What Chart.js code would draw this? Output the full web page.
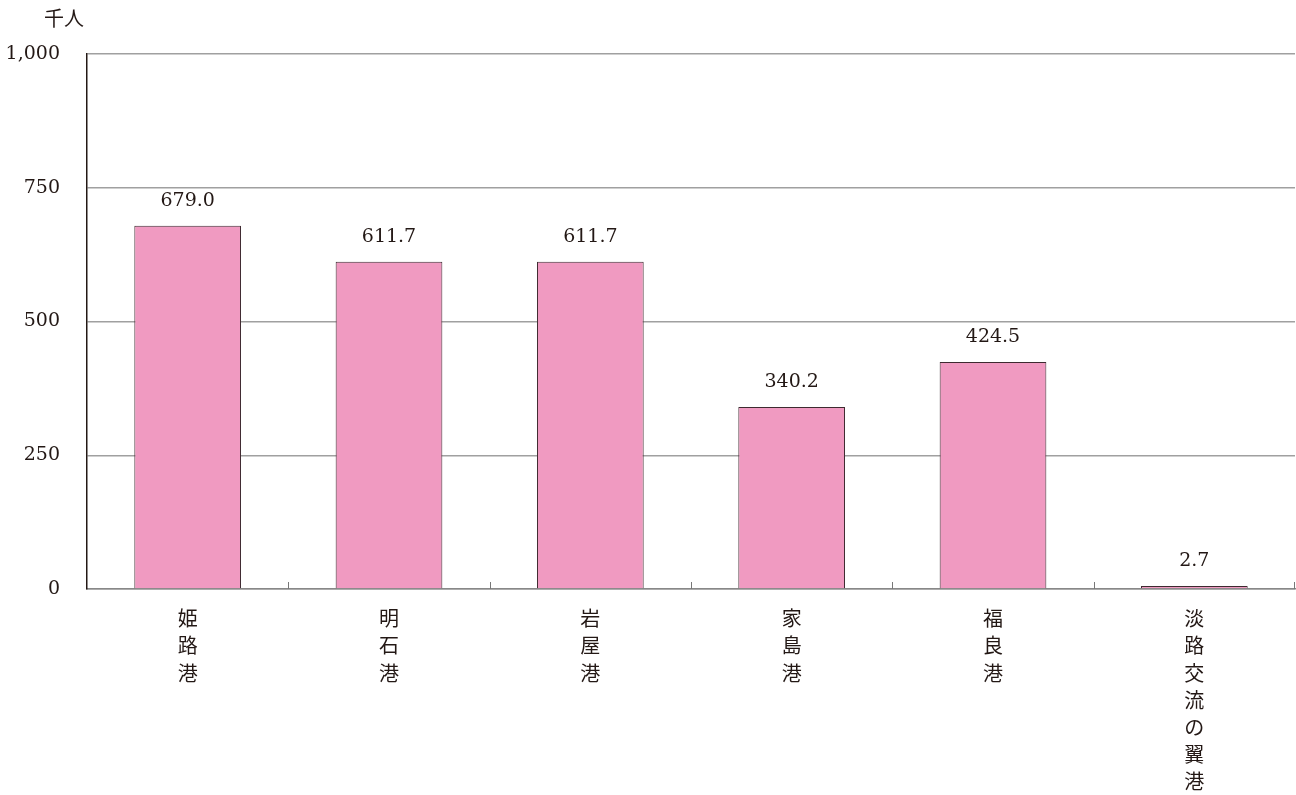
<!DOCTYPE html>
<html>
<head>
<meta charset="utf-8">
<script src="https://cdn.jsdelivr.net/npm/chart.js@4/dist/chart.umd.min.js"></script>
<style>
  html,body{margin:0;padding:0;background:#fff;}
  #wrap{width:1296px;height:795px;position:relative;}
</style>
</head>
<body>
<div id="wrap"><canvas id="myChart" width="1296" height="795"></canvas></div>
<script>
// 港別の乗降客数（千人）
var portNames=["姫路港","明石港","岩屋港","家島港","福良港","淡路交流の翼港"];
var passengers=[679.0,611.7,611.7,340.2,424.5,2.7];
var yTicks=[0,250,500,750,1000];
var unitLabel="千人";

var serif="'DejaVu Serif','Liberation Serif','Noto Sans CJK JP',serif";

// 縦書きラベル用に1文字ずつに分ける
var verticalLabels=portNames.map(function(n){ return n.split(""); });

var extras={
    id:"extras",
    afterDatasetsDraw:function(chart){
        var ctx=chart.ctx;
        var xs=chart.scales.x, ys=chart.scales.y;
        var meta=chart.getDatasetMeta(0);
        ctx.save();
        // 数値ラベル
        ctx.font="19px "+serif;
        ctx.fillStyle="#231815";
        ctx.textAlign="center";
        ctx.textBaseline="middle";
        meta.data.forEach(function(bar,i){
            var top=Math.min(bar.y,ys.bottom-2);
            ctx.fillText(passengers[i].toFixed(1),bar.x,top-25);
        });
        // 区切り目盛り（内向き）
        ctx.strokeStyle="#777";
        ctx.lineWidth=1;
        for(var i=1;i<portNames.length;i++){
            var px=Math.round((xs.getPixelForValue(i-1)+xs.getPixelForValue(i))/2)+0.5;
            ctx.beginPath();
            ctx.moveTo(px,ys.bottom);
            ctx.lineTo(px,ys.bottom-7);
            ctx.stroke();
        }
        var rx=xs.right-0.5;
        ctx.beginPath();ctx.moveTo(rx,ys.bottom);ctx.lineTo(rx,ys.bottom-7);ctx.stroke();
        // 単位
        ctx.font="20px 'Noto Sans CJK JP',sans-serif";
        ctx.fillStyle="#231815";
        ctx.fillText(unitLabel,64,18);
        ctx.restore();
    }
};

var ctx=document.getElementById("myChart").getContext("2d");
var myChart=new Chart(ctx,{
    type:"bar",
    data:{
        labels:verticalLabels,
        datasets:[
            {
                data:passengers,
                backgroundColor:"#f09ac1",
                borderColor:"#3e2a30",
                borderWidth:1,
                minBarLength:3,
                categoryPercentage:1,
                barPercentage:0.53
            }
        ]
    },
    options:{
        responsive:false,
        animation:false,
        layout:{padding:{top:54,right:1,left:0,bottom:0}},
        plugins:{legend:{display:false},tooltip:{enabled:false}},
        scales:{
            x:{
                grid:{display:false,drawOnChartArea:false},
                border:{color:"#888",width:1.5},
                ticks:{
                    color:"#231815",
                    font:{size:20,family:"'Noto Sans CJK JP',sans-serif",lineHeight:1.36},
                    padding:8,
                    maxRotation:0,
                    autoSkip:false
                },
                afterFit:function(s){ s.height=206; }
            },
            y:{
                min:0,
                max:1000,
                afterBuildTicks:function(s){ s.ticks=yTicks.map(function(v){return {value:v};}); },
                grid:{color:"#a0a0a0",lineWidth:1.5,drawTicks:false},
                border:{color:"#231815",width:1.5},
                ticks:{
                    color:"#231815",
                    font:{size:19,family:serif},
                    padding:27,
                    callback:function(v){ return v.toLocaleString("en-US"); }
                },
                afterFit:function(s){ s.width=87; }
            }
        }
    },
    plugins:[extras]
});
</script>
</body>
</html>
